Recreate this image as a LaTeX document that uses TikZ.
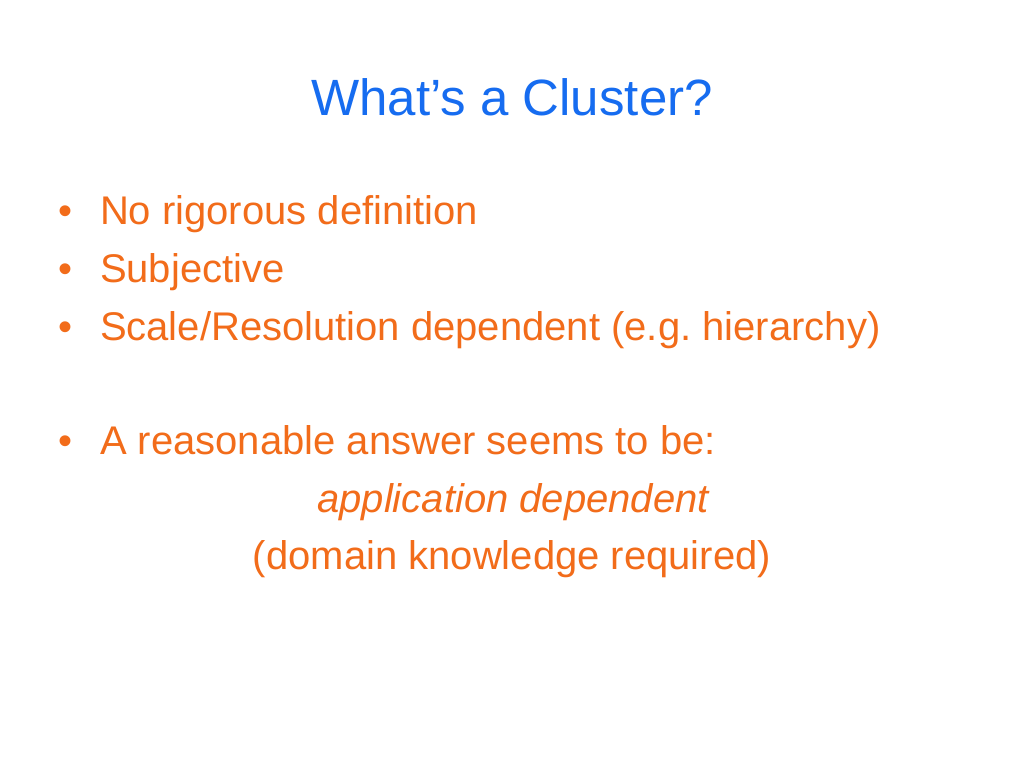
\documentclass[tikz,border=0pt]{standalone}
\usepackage{fontspec}
\setmainfont{Liberation Sans}
\frenchspacing
\definecolor{titleblue}{RGB}{22,108,240}
\definecolor{textorange}{RGB}{242,108,26}
\begin{document}
\begin{tikzpicture}[x=1pt,y=-1pt,
  every node/.style={inner sep=0pt,outer sep=0pt},
  titletext/.style={anchor=base,text=titleblue,font=\fontsize{51}{60}\selectfont},
  bodytext/.style={anchor=base west,text=textorange,font=\fontsize{40}{48}\selectfont},
  bullet/.style={anchor=base west,text=textorange,font=\fontsize{40}{48}\selectfont},
  centertext/.style={anchor=base,text=textorange,font=\fontsize{40}{48}\selectfont}]
\useasboundingbox[fill=white] (0,0) rectangle (1024,768);
\node[titletext] (title) at (512,115) {What’s a Cluster?};
\node[bullet] (b1) at (58,224) {•};
\node[bodytext] (t1) at (100,224) {No rigorous definition};
\node[bullet] (b2) at (58,282) {•};
\node[bodytext] (t2) at (100,282) {Subjective};
\node[bullet] (b3) at (58,340) {•};
\node[bodytext] (t3) at (100,340) {Scale/Resolution dependent (e.g. hierarchy)};
\node[bullet] (b4) at (58,454) {•};
\node[bodytext] (t4) at (100,454) {A reasonable answer seems to be:};
\node[centertext,font=\fontsize{40}{48}\selectfont\itshape] (t5) at (513,512) {application dependent};
\node[centertext] (t6) at (512,569) {(domain knowledge required)};
\end{tikzpicture}
\end{document}
